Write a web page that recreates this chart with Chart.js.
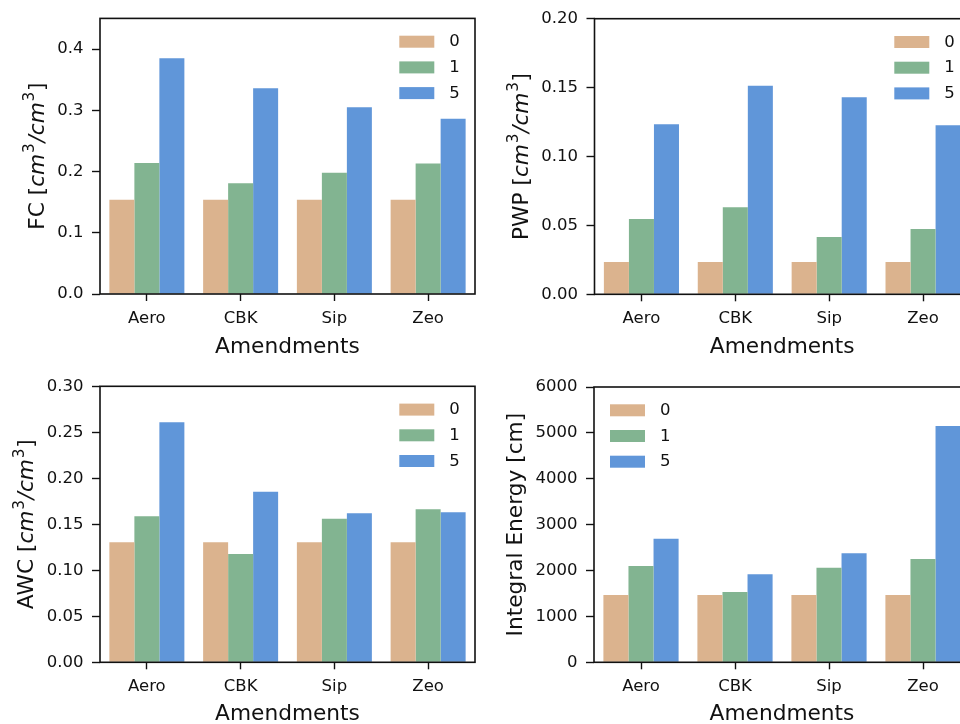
<!DOCTYPE html>
<html>
<head>
<meta charset="utf-8">
<script src="https://cdn.jsdelivr.net/npm/chart.js@4.4.1/dist/chart.umd.min.js"></script>
<style>
  html, body { margin: 0; padding: 0; background: #fff; overflow: hidden; width: 960px; height: 724px; }
  canvas { position: absolute; }
</style>
</head>
<body>
<canvas id="fcChart" width="480" height="362" style="left:0;top:0"></canvas>
<canvas id="pwpChart" width="495" height="362" style="left:480px;top:0"></canvas>
<canvas id="awcChart" width="480" height="362" style="left:0;top:362px"></canvas>
<canvas id="energyChart" width="495" height="362" style="left:480px;top:362px"></canvas>
<script>
const amendments = ['Aero', 'CBK', 'Sip', 'Zeo'];
const doses = ['0', '1', '5'];
const doseColors = ['#dbb38e', '#82b491', '#6096d9'];

// FC
const fc0 = [0.154, 0.154, 0.154, 0.154];
const fc1 = [0.214, 0.181, 0.198, 0.213];
const fc5 = [0.385, 0.336, 0.305, 0.286];
const fcTicks = [0, 0.1, 0.2, 0.3, 0.4];
const fcTickLabels = ['0.0', '0.1', '0.2', '0.3', '0.4'];

// PWP
const pwp0 = [0.0235, 0.0235, 0.0235, 0.0235];
const pwp1 = [0.0546, 0.0631, 0.0416, 0.0474];
const pwp5 = [0.1234, 0.1514, 0.1430, 0.1226];
const pwpTicks = [0, 0.05, 0.10, 0.15, 0.20];
const pwpTickLabels = ['0.00', '0.05', '0.10', '0.15', '0.20'];

// AWC
const awc0 = [0.1305, 0.1305, 0.1305, 0.1305];
const awc1 = [0.1587, 0.1177, 0.1560, 0.1663];
const awc5 = [0.2610, 0.1855, 0.1620, 0.1630];
const awcTicks = [0, 0.05, 0.10, 0.15, 0.20, 0.25, 0.30];
const awcTickLabels = ['0.00', '0.05', '0.10', '0.15', '0.20', '0.25', '0.30'];

// Integral energy
const energy0 = [1467, 1467, 1467, 1467];
const energy1 = [2099, 1532, 2062, 2251];
const energy5 = [2694, 1918, 2375, 5150];
const energyTicks = [0, 1000, 2000, 3000, 4000, 5000, 6000];
const energyTickLabels = ['0', '1000', '2000', '3000', '4000', '5000', '6000'];

const FONT = '"DejaVu Sans"';
const INK = '#111';
const TICK_SIZE = 16.5;
const LABEL_SIZE = 21.7;

function drawRichLabel(ctx, parts, baseX, cy, size) {
  const fontFor = p => p.sup ? `${size * 0.7}px ${FONT}` : (p.it ? `italic ${size}px ${FONT}` : `${size}px ${FONT}`);
  let total = 0;
  const widths = parts.map(p => {
    ctx.font = fontFor(p);
    const w = ctx.measureText(p.t).width + (p.sup ? 1.5 : 0);
    total += w;
    return w;
  });
  ctx.save();
  ctx.translate(baseX, cy);
  ctx.rotate(-Math.PI / 2);
  ctx.fillStyle = INK;
  ctx.textAlign = 'left';
  ctx.textBaseline = 'alphabetic';
  let x = -total / 2;
  parts.forEach((p, i) => {
    ctx.font = fontFor(p);
    ctx.fillText(p.t, x + (p.sup ? 0.8 : 0), p.sup ? -size * 0.42 : 0);
    x += widths[i];
  });
  ctx.restore();
}

const decorations = {
  id: 'decorations',
  afterDraw(chart, args, opts) {
    const { ctx, chartArea: a } = chart;
    ctx.save();
    // full frame like matplotlib spines
    ctx.strokeStyle = INK;
    ctx.lineWidth = 1.6;
    ctx.strokeRect(a.left, a.top, a.right - a.left, a.bottom - a.top);

    // x title
    ctx.fillStyle = INK;
    ctx.font = `${LABEL_SIZE}px ${FONT}`;
    ctx.textAlign = 'center';
    ctx.textBaseline = 'alphabetic';
    ctx.fillText('Amendments', (a.left + a.right) / 2, a.bottom + opts.xTitleGap);

    // y title, placed left of widest tick label
    ctx.font = `${TICK_SIZE}px ${FONT}`;
    const widest = Math.max(...opts.tickLabels.map(s => ctx.measureText(s).width));
    const baseX = a.left - 16.7 - widest - 13.5;
    drawRichLabel(ctx, opts.yTitle, baseX, (a.top + a.bottom) / 2, LABEL_SIZE);

    // legend
    const boxW = 35, boxH = 12, rowH = 25.7;
    const x0 = opts.legend === 'right' ? a.right - 75.7 : a.left + 16;
    const y0 = a.top + 23.3;
    chart.data.datasets.forEach((ds, i) => {
      const cy = y0 + i * rowH;
      ctx.fillStyle = ds.backgroundColor;
      ctx.fillRect(x0, cy - boxH / 2, boxW, boxH);
      ctx.fillStyle = INK;
      ctx.font = `${TICK_SIZE}px ${FONT}`;
      ctx.textAlign = 'left';
      ctx.textBaseline = 'middle';
      ctx.fillText(ds.label, x0 + boxW + 15, cy + 0.5);
    });
    ctx.restore();
  }
};

const unitParts = [
  { t: 'cm', it: true }, { t: '3', sup: true }, { t: '/', it: true },
  { t: 'cm', it: true }, { t: '3', sup: true }, { t: ']' }
];

function makeChart(id, series, yMax, ticks, tickLabels, yTitle, legend, box) {
  const ctx = document.getElementById(id).getContext('2d');
  return new Chart(ctx, {
    type: 'bar',
    data: {
      labels: amendments,
      datasets: series.map((values, i) => ({
        label: doses[i],
        data: values,
        backgroundColor: doseColors[i],
        borderWidth: 0,
        categoryPercentage: 0.8,
        barPercentage: 1.0
      }))
    },
    options: {
      responsive: false,
      animation: false,
      layout: { padding: { top: box.top, right: box.right, left: 0, bottom: 0 } },
      plugins: {
        legend: { display: false },
        tooltip: { enabled: false },
        decorations: { yTitle, tickLabels, legend, xTitleGap: box.xTitleGap }
      },
      scales: {
        x: {
          afterFit: s => { s.height = box.xHeight; },
          border: { display: false },
          grid: { offset: false, drawOnChartArea: false, drawTicks: true, tickLength: 7, tickColor: INK, tickWidth: 1.4 },
          ticks: { color: INK, padding: 7.5, font: { family: 'DejaVu Sans', size: TICK_SIZE } }
        },
        y: {
          min: 0,
          max: yMax,
          afterFit: s => { s.width = box.yWidth; },
          afterBuildTicks: s => { s.ticks = ticks.map(v => ({ value: v })); },
          border: { display: false },
          grid: { drawOnChartArea: false, drawTicks: true, tickLength: 8, tickColor: INK, tickWidth: 1.4 },
          ticks: {
            color: INK,
            padding: 8.5,
            font: { family: 'DejaVu Sans', size: TICK_SIZE },
            callback: (v, i) => tickLabels[i]
          }
        }
      }
    },
    plugins: [decorations]
  });
}

makeChart('fcChart', [fc0, fc1, fc5], 0.45, fcTicks, fcTickLabels,
  [{ t: 'FC [' }, ...unitParts], 'right',
  { top: 18, right: 5, yWidth: 100, xHeight: 68, xTitleGap: 59 });

makeChart('pwpChart', [pwp0, pwp1, pwp5], 0.20, pwpTicks, pwpTickLabels,
  [{ t: 'PWP [' }, ...unitParts], 'right',
  { top: 18.7, right: 5, yWidth: 114.5, xHeight: 67.7, xTitleGap: 59 });

makeChart('awcChart', [awc0, awc1, awc5], 0.30, awcTicks, awcTickLabels,
  [{ t: 'AWC [' }, ...unitParts], 'right',
  { top: 24.3, right: 5, yWidth: 100, xHeight: 61.7, xTitleGap: 57.8 });

makeChart('energyChart', [energy0, energy1, energy5], 6000, energyTicks, energyTickLabels,
  [{ t: 'Integral Energy [cm]' }], 'left',
  { top: 25, right: 5, yWidth: 114, xHeight: 61.7, xTitleGap: 57.8 });
</script>
</body>
</html>
